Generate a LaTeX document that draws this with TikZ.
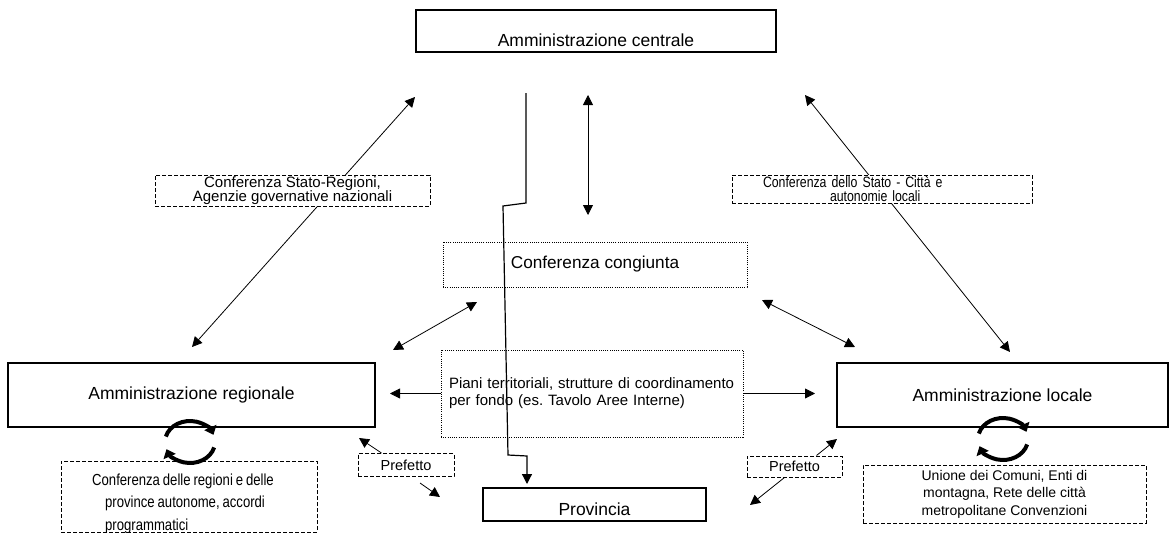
\documentclass[tikz,border=0pt]{standalone}
\usepackage{fontspec}
\setmainfont{Liberation Sans}
\newfontfamily\narrowsans[FakeStretch=0.82,WordSpace=0.8]{Liberation Sans}
\usetikzlibrary{arrows.meta}
\pgfdeclarelayer{background}
\pgfsetlayers{background,main}
\begin{document}
\begin{tikzpicture}[x=1pt,y=-1pt,
  >={Triangle[length=10pt,width=10pt]},
  mainbox/.style={draw, line width=1.3pt, fill=white, inner sep=0pt,
    font=\fontsize{17.5}{21}\selectfont},
  dashbox/.style={draw, line width=1pt, dash pattern=on 4pt off 2pt,
    fill=white, inner sep=0pt},
  dotbox/.style={draw, line width=1pt, dash pattern=on 1pt off 1.2pt,
    fill=white, inner sep=0pt},
  conn/.style={line width=0.8pt},
  flow/.style={line width=1.2pt, ->},
  turn/.style={line width=4pt, -{Triangle[length=8pt,width=13pt]}},
  loopsign/.pic={
    \draw[turn] (195:25 and 21) arc[start angle=195,end angle=340,x radius=25,y radius=21];
    \draw[turn] (15:25 and 21) arc[start angle=15,end angle=160,x radius=25,y radius=21];
  }]
\useasboundingbox (0,0) rectangle (1171,533);

% free ends of the connectors
\coordinate (srup) at (415,97);
\coordinate (srdn) at (192,347);
\coordinate (ciup) at (805,95);
\coordinate (cidn) at (1010,352);
\coordinate (vcup) at (588,95);
\coordinate (vcdn) at (588,215);
\coordinate (cla) at (477,302);
\coordinate (clb) at (393,350);
\coordinate (cra) at (762,300);
\coordinate (crb) at (855,347);
\coordinate (pl) at (390,393.5);
\coordinate (pr) at (815,393.5);
\coordinate (pflup) at (359,438);
\coordinate (pfldna) at (420,483);
\coordinate (pfldnb) at (440,497);
\coordinate (pfrup) at (837,439);
\coordinate (pfrdn) at (750,505);
\coordinate (fstart) at (526,93);
\coordinate (fend) at (527,484);

% long diagonal links, partly hidden by the conference boxes
\begin{pgfonlayer}{background}
  \draw[conn,<->] (srdn) -- (srup);
  \draw[conn,<->] (ciup) -- (cidn);
\end{pgfonlayer}

% administrations
\node[mainbox, minimum width=360, minimum height=42, text height=36, text depth=6]
  (central) at (596,31) {Amministrazione centrale};
\node[mainbox, minimum width=367, minimum height=64] (regional) at (191.5,395) {Amministrazione regionale};
\node[mainbox, minimum width=331, minimum height=64] (locale) at (1002.5,395) {Amministrazione locale};
\node[mainbox, minimum width=223, minimum height=33, text height=27, text depth=6]
  (provincia) at (594.5,504.5) {Provincia};

% coordination bodies
\node[dotbox, minimum width=304, minimum height=45, font=\fontsize{17.2}{20}\selectfont]
  (congiunta) at (595,264.5) {Conferenza congiunta};
\node[dotbox, minimum width=302, minimum height=87, text width=286, inner xsep=8pt,
  align=left, font=\fontsize{15}{17}\selectfont]
  (piani) at (592,393.5) {Piani territoriali, strutture di coordinamento\\per fondo (es.\ Tavolo Aree Interne)};
\node[dashbox, minimum width=275, minimum height=31, align=center,
  font=\fontsize{15}{14.5}\selectfont]
  (statoreg) at (292.5,190.5) {Conferenza Stato-Regioni,\\Agenzie governative nazionali};
\node[dashbox, minimum width=300, minimum height=28, text width=238, inner xsep=31pt,
  align=left, font=\narrowsans\fontsize{15}{14}\selectfont]
  (statocitta) at (882,189) {Conferenza dello Stato - Città e\\\hspace*{67pt}autonomie locali};
\node[dashbox, minimum width=256, minimum height=71] (confreg) at (189,496.5) {};
\node[anchor=north west, inner sep=0pt, align=left,
  font=\narrowsans\fontsize{16}{22.5}\selectfont]
  (confregtxt) at (92,473.3) {Conferenza delle regioni e delle\\\hspace*{13pt}province autonome, accordi\\\hspace*{13pt}programmatici};
\node[dashbox, minimum width=283, minimum height=58, align=center,
  font=\fontsize{14}{17.5}\selectfont]
  (unione) at (1004.5,494) {Unione dei Comuni, Enti di\\montagna, Rete delle città\\metropolitane Convenzioni};
\node[dashbox, minimum width=96, minimum height=23, font=\fontsize{14.5}{17}\selectfont]
  (pfL) at (406,465) {Prefetto};
\node[dashbox, minimum width=95, minimum height=21, font=\fontsize{14.5}{17}\selectfont]
  (pfR) at (794.5,466.5) {Prefetto};

% internal coordination cycles
\pic at (190,442) {loopsign};
\pic at (1003,439) {loopsign};

% links
\draw[conn,<->] (vcup) -- (vcdn);
\draw[conn,<->] (cla) -- (clb);
\draw[conn,<->] (cra) -- (crb);
\draw[conn,->] (piani.west) -- (pl);
\draw[conn,->] (piani.east) -- (pr);
\draw[conn,->] ([xshift=24pt]pfL.north west) -- (pflup);
\draw[conn,->] (pfldna) -- (pfldnb);
\draw[conn,->] ([xshift=70pt]pfR.north west) -- (pfrup);
\draw[conn,->] ([xshift=38pt]pfR.south west) -- (pfrdn);

% direct line from the centre down to the province
\draw[flow] (fstart) -- (526,203) -- (503,206) -- (508,455) -- (527,456) -- (fend);
\end{tikzpicture}
\end{document}
